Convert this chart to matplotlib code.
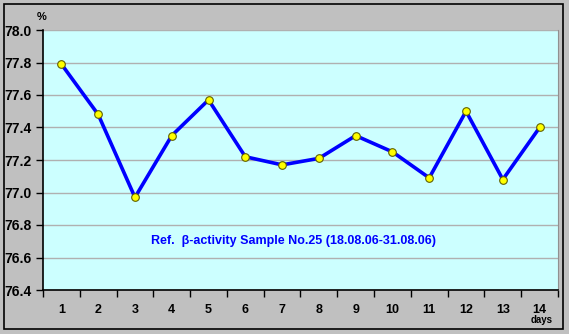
import matplotlib.pyplot as plt
from matplotlib.patches import Rectangle

days = list(range(1, 15))
activity = [77.79, 77.48, 76.97, 77.35, 77.57, 77.22, 77.17,
            77.21, 77.35, 77.25, 77.09, 77.50, 77.08, 77.40]
yticks = [76.4, 76.6, 76.8, 77.0, 77.2, 77.4, 77.6, 77.8, 78.0]

plt.rcParams['font.family'] = ['Liberation Sans', 'DejaVu Sans']

W, H = 569, 334
fig = plt.figure(figsize=(W / 100, H / 100), dpi=100)
fig.patch.set_facecolor('#C0C0C0')

# black frame around the chart
fig.patches.append(Rectangle((4 / W, 5 / H), 559 / W, 325 / H, transform=fig.transFigure,
                             fill=False, edgecolor='black', linewidth=1.2))

ax = fig.add_axes([43 / W, 1 - 290 / H, 515 / W, 260 / H])
ax.set_facecolor('#CCFFFF')

ax.plot(days, activity, color='#0000FF', linewidth=2.6,
        marker='o', markersize=5.5, markerfacecolor='#FFFF00',
        markeredgecolor='#606000', markeredgewidth=0.8, zorder=3)

ax.set_xlim(0.5, 14.5)
ax.set_ylim(76.4, 78.0)
ax.set_yticks(yticks)
ax.set_yticklabels([f'{v:.1f}' for v in yticks], fontsize=10, fontweight='bold')
ax.set_xticks(days)
ax.set_xticklabels([str(d) for d in days], fontsize=9, fontweight='bold')
ax.set_xticks([d + 0.5 for d in range(0, 15)], minor=True)
ax.tick_params(axis='x', which='major', length=0, pad=10)
ax.tick_params(axis='x', which='minor', length=5, width=1, direction='out')
ax.tick_params(axis='y', length=5, width=1, direction='out', pad=3)

ax.grid(axis='y', color='#B0B0B0', linewidth=1)
ax.set_axisbelow(True)

ax.spines['top'].set_visible(False)
ax.spines['right'].set_color('#909090')
ax.spines['left'].set_linewidth(1.2)
ax.spines['bottom'].set_linewidth(1.2)

ax.text(7.31, 76.7, 'Ref.  β-activity Sample No.25 (18.08.06-31.08.06)',
        color='#0000FF', fontsize=9, fontweight='bold', ha='center', va='center')

fig.text(42 / W, 1 - 17 / H, '%', fontsize=8, fontweight='bold', ha='center', va='center')
fig.text(542 / W, 1 - 320 / H, 'days', fontsize=7, fontweight='bold', ha='center', va='center')

fig.savefig('out.png', dpi=100, facecolor=fig.get_facecolor())
